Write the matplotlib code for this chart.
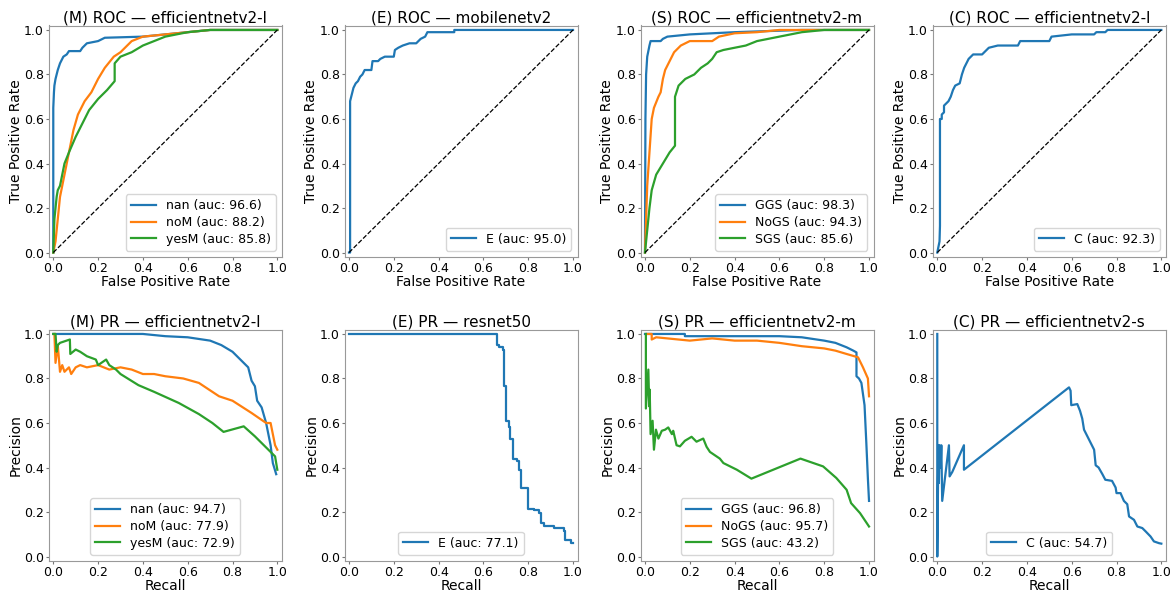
import matplotlib
matplotlib.use("Agg")
import matplotlib.pyplot as plt

# ---------------- ROC curves ----------------
# (M) efficientnetv2-l
m_roc_nan_fpr = [0.0, 0.0, 0.003, 0.005, 0.01, 0.015, 0.02, 0.03, 0.045, 0.06, 0.07, 0.12, 0.13, 0.15, 0.2, 0.23, 0.3, 0.4, 0.5, 0.6, 0.7, 1.0]
m_roc_nan_tpr = [0.0, 0.65, 0.72, 0.75, 0.78, 0.8, 0.82, 0.85, 0.88, 0.89, 0.905, 0.905, 0.92, 0.94, 0.95, 0.965, 0.967, 0.97, 0.98, 0.99, 1.0, 1.0]
m_roc_nom_fpr = [0.0, 0.01, 0.02, 0.03, 0.05, 0.07, 0.09, 0.11, 0.14, 0.17, 0.2, 0.23, 0.27, 0.3, 0.35, 0.4, 0.5, 0.6, 0.7, 1.0]
m_roc_nom_tpr = [0.0, 0.05, 0.15, 0.25, 0.35, 0.45, 0.55, 0.62, 0.68, 0.72, 0.78, 0.83, 0.88, 0.9, 0.95, 0.97, 0.98, 0.99, 1.0, 1.0]
m_roc_yes_fpr = [0.0, 0.005, 0.01, 0.015, 0.02, 0.03, 0.05, 0.07, 0.1, 0.13, 0.16, 0.2, 0.24, 0.274, 0.274, 0.3, 0.35, 0.4, 0.45, 0.5, 0.6, 0.7, 1.0]
m_roc_yes_tpr = [0.0, 0.15, 0.2, 0.25, 0.28, 0.3, 0.4, 0.45, 0.52, 0.58, 0.64, 0.69, 0.73, 0.77, 0.85, 0.88, 0.9, 0.93, 0.95, 0.97, 0.99, 1.0, 1.0]

# (E) mobilenetv2
e_roc_fpr = [0.0, 0.005, 0.005, 0.01, 0.015, 0.02, 0.03, 0.04, 0.05, 0.06, 0.07, 0.1, 0.105, 0.13, 0.14, 0.16, 0.2, 0.205, 0.22, 0.24, 0.27, 0.3, 0.32, 0.34, 0.35, 0.47, 0.47, 1.0]
e_roc_tpr = [0.0, 0.0, 0.68, 0.7, 0.72, 0.74, 0.76, 0.77, 0.79, 0.8, 0.82, 0.82, 0.86, 0.86, 0.87, 0.88, 0.88, 0.91, 0.92, 0.93, 0.94, 0.94, 0.96, 0.97, 0.99, 0.99, 1.0, 1.0]

# (S) efficientnetv2-m
s_roc_ggs_fpr = [0.0, 0.002, 0.005, 0.01, 0.02, 0.025, 0.07, 0.08, 0.1, 0.2, 0.4, 0.7, 1.0]
s_roc_ggs_tpr = [0.0, 0.6, 0.8, 0.88, 0.93, 0.95, 0.95, 0.96, 0.97, 0.98, 0.99, 1.0, 1.0]
s_roc_nogs_fpr = [0.0, 0.005, 0.01, 0.02, 0.03, 0.04, 0.06, 0.07, 0.08, 0.09, 0.11, 0.13, 0.16, 0.2, 0.3, 0.33, 0.4, 0.5, 0.6, 1.0]
s_roc_nogs_tpr = [0.0, 0.15, 0.3, 0.45, 0.6, 0.65, 0.7, 0.72, 0.78, 0.82, 0.86, 0.9, 0.93, 0.95, 0.95, 0.97, 0.985, 0.99, 1.0, 1.0]
s_roc_sgs_fpr = [0.0, 0.01, 0.02, 0.03, 0.05, 0.08, 0.11, 0.134, 0.134, 0.15, 0.18, 0.22, 0.25, 0.28, 0.3, 0.32, 0.35, 0.4, 0.45, 0.5, 0.6, 0.7, 0.8, 1.0]
s_roc_sgs_tpr = [0.0, 0.1, 0.2, 0.28, 0.35, 0.4, 0.45, 0.48, 0.7, 0.75, 0.78, 0.8, 0.83, 0.85, 0.87, 0.9, 0.91, 0.92, 0.93, 0.95, 0.97, 0.99, 1.0, 1.0]

# (C) efficientnetv2-l
c_roc_fpr = [0.0, 0.01, 0.012, 0.012, 0.02, 0.02, 0.03, 0.03, 0.05, 0.06, 0.07, 0.08, 0.1, 0.11, 0.12, 0.13, 0.14, 0.16, 0.2, 0.21, 0.23, 0.27, 0.36, 0.37, 0.5, 0.51, 0.6, 0.7, 0.71, 0.75, 0.76, 1.0]
c_roc_tpr = [0.0, 0.05, 0.12, 0.6, 0.6, 0.62, 0.63, 0.66, 0.68, 0.7, 0.73, 0.75, 0.76, 0.8, 0.83, 0.85, 0.87, 0.89, 0.89, 0.9, 0.92, 0.93, 0.93, 0.95, 0.95, 0.97, 0.98, 0.98, 0.99, 0.99, 1.0, 1.0]

# ---------------- PR curves ----------------
# (M) efficientnetv2-l
m_pr_nan_rec = [0.0, 0.4, 0.5, 0.6, 0.7, 0.75, 0.8, 0.85, 0.87, 0.885, 0.9, 0.91, 0.93, 0.95, 0.96, 0.97, 0.98, 0.995]
m_pr_nan_prec = [1.0, 1.0, 0.99, 0.985, 0.97, 0.95, 0.92, 0.87, 0.85, 0.79, 0.765, 0.7, 0.67, 0.6, 0.55, 0.5, 0.42, 0.37]
m_pr_nom_rec = [0.005, 0.01, 0.02, 0.03, 0.04, 0.05, 0.07, 0.08, 0.1, 0.12, 0.15, 0.2, 0.25, 0.3, 0.35, 0.4, 0.45, 0.5, 0.58, 0.65, 0.74, 0.8, 0.885, 0.95, 0.97, 0.99, 1.0]
m_pr_nom_prec = [1.0, 0.87, 0.95, 0.83, 0.86, 0.83, 0.85, 0.82, 0.85, 0.86, 0.85, 0.86, 0.84, 0.85, 0.84, 0.82, 0.82, 0.81, 0.8, 0.78, 0.72, 0.7, 0.645, 0.6, 0.6, 0.5, 0.48]
m_pr_yes_rec = [0.0, 0.01, 0.015, 0.02, 0.03, 0.074, 0.076, 0.1, 0.12, 0.15, 0.19, 0.2, 0.236, 0.25, 0.28, 0.3, 0.38, 0.45, 0.56, 0.65, 0.71, 0.76, 0.85, 0.9, 0.96, 0.99, 1.0]
m_pr_yes_prec = [1.0, 1.0, 0.92, 0.95, 0.96, 0.975, 0.91, 0.93, 0.92, 0.9, 0.885, 0.86, 0.885, 0.86, 0.84, 0.82, 0.77, 0.74, 0.69, 0.64, 0.6, 0.56, 0.585, 0.54, 0.48, 0.45, 0.39]

# (E) resnet50
e_pr_rec = [0.0, 0.659, 0.659, 0.67, 0.67, 0.686, 0.686, 0.693, 0.693, 0.70, 0.70, 0.715, 0.715, 0.72, 0.72, 0.73, 0.73, 0.75, 0.75, 0.76, 0.76, 0.767, 0.767, 0.80, 0.80, 0.826, 0.826, 0.85, 0.85, 0.855, 0.855, 0.87, 0.87, 0.915, 0.915, 0.96, 0.96, 0.966, 0.966, 0.99, 0.99, 1.0]
e_pr_prec = [1.0, 1.0, 0.952, 0.952, 0.94, 0.94, 0.93, 0.93, 0.765, 0.765, 0.61, 0.61, 0.58, 0.58, 0.53, 0.53, 0.44, 0.44, 0.43, 0.43, 0.39, 0.39, 0.31, 0.31, 0.215, 0.215, 0.21, 0.21, 0.195, 0.195, 0.15, 0.15, 0.135, 0.135, 0.13, 0.13, 0.113, 0.113, 0.075, 0.075, 0.063, 0.063]

# (S) efficientnetv2-m
s_pr_ggs_rec = [0.0, 0.178, 0.178, 0.6, 0.7, 0.8, 0.85, 0.9, 0.93, 0.944, 0.944, 0.955, 0.966, 0.98, 0.988, 0.995, 1.0]
s_pr_ggs_prec = [1.0, 1.0, 0.99, 0.99, 0.985, 0.97, 0.96, 0.94, 0.925, 0.917, 0.81, 0.8, 0.78, 0.68, 0.51, 0.35, 0.25]
s_pr_nogs_rec = [0.01, 0.03, 0.03, 0.05, 0.1, 0.15, 0.2, 0.25, 0.3, 0.4, 0.5, 0.6, 0.7, 0.8, 0.85, 0.9, 0.951, 0.973, 0.995, 1.0]
s_pr_nogs_prec = [1.0, 1.0, 0.975, 0.985, 0.98, 0.975, 0.97, 0.975, 0.98, 0.97, 0.97, 0.96, 0.945, 0.935, 0.925, 0.91, 0.895, 0.85, 0.8, 0.72]
s_pr_sgs_rec = [0.004, 0.004, 0.015, 0.019, 0.021, 0.025, 0.034, 0.04, 0.049, 0.06, 0.075, 0.09, 0.104, 0.12, 0.126, 0.141, 0.156, 0.178, 0.208, 0.23, 0.26, 0.275, 0.29, 0.334, 0.35, 0.41, 0.475, 0.694, 0.795, 0.854, 0.9, 0.92, 0.96, 1.0]
s_pr_sgs_prec = [1.0, 0.665, 0.84, 0.675, 0.75, 0.55, 0.61, 0.48, 0.57, 0.53, 0.565, 0.57, 0.58, 0.55, 0.565, 0.5, 0.495, 0.52, 0.538, 0.516, 0.53, 0.493, 0.47, 0.44, 0.42, 0.39, 0.35, 0.44, 0.405, 0.353, 0.3, 0.24, 0.195, 0.135]

# (C) efficientnetv2-s
c_pr_rec = [0.0, 0.0, 0.005, 0.007, 0.01, 0.015, 0.018, 0.022, 0.052, 0.055, 0.067, 0.119, 0.119, 0.588, 0.595, 0.598, 0.625, 0.637, 0.647, 0.655, 0.67, 0.685, 0.7, 0.707, 0.72, 0.737, 0.75, 0.78, 0.796, 0.80, 0.818, 0.833, 0.848, 0.856, 0.878, 0.893, 0.915, 0.93, 0.952, 0.967, 0.99, 1.0]
c_pr_prec = [1.0, 0.0, 0.5, 0.33, 0.5, 0.4, 0.5, 0.25, 0.5, 0.36, 0.38, 0.5, 0.39, 0.76, 0.745, 0.68, 0.685, 0.655, 0.62, 0.57, 0.54, 0.51, 0.48, 0.41, 0.4, 0.37, 0.345, 0.34, 0.31, 0.285, 0.285, 0.25, 0.235, 0.18, 0.165, 0.135, 0.128, 0.113, 0.09, 0.068, 0.06, 0.058]

COLORS = ["#1f77b4", "#ff7f0e", "#2ca02c"]

panels = [
    # row 0: ROC
    ("(M) ROC — efficientnetv2-l", "roc", [
        ("nan (auc: 96.6)", m_roc_nan_fpr, m_roc_nan_tpr),
        ("noM (auc: 88.2)", m_roc_nom_fpr, m_roc_nom_tpr),
        ("yesM (auc: 85.8)", m_roc_yes_fpr, m_roc_yes_tpr)]),
    ("(E) ROC — mobilenetv2", "roc", [
        ("E (auc: 95.0)", e_roc_fpr, e_roc_tpr)]),
    ("(S) ROC — efficientnetv2-m", "roc", [
        ("GGS (auc: 98.3)", s_roc_ggs_fpr, s_roc_ggs_tpr),
        ("NoGS (auc: 94.3)", s_roc_nogs_fpr, s_roc_nogs_tpr),
        ("SGS (auc: 85.6)", s_roc_sgs_fpr, s_roc_sgs_tpr)]),
    ("(C) ROC — efficientnetv2-l", "roc", [
        ("C (auc: 92.3)", c_roc_fpr, c_roc_tpr)]),
    # row 1: PR
    ("(M) PR — efficientnetv2-l", "pr", [
        ("nan (auc: 94.7)", m_pr_nan_rec, m_pr_nan_prec),
        ("noM (auc: 77.9)", m_pr_nom_rec, m_pr_nom_prec),
        ("yesM (auc: 72.9)", m_pr_yes_rec, m_pr_yes_prec)]),
    ("(E) PR — resnet50", "pr", [
        ("E (auc: 77.1)", e_pr_rec, e_pr_prec)]),
    ("(S) PR — efficientnetv2-m", "pr", [
        ("GGS (auc: 96.8)", s_pr_ggs_rec, s_pr_ggs_prec),
        ("NoGS (auc: 95.7)", s_pr_nogs_rec, s_pr_nogs_prec),
        ("SGS (auc: 43.2)", s_pr_sgs_rec, s_pr_sgs_prec)]),
    ("(C) PR — efficientnetv2-s", "pr", [
        ("C (auc: 54.7)", c_pr_rec, c_pr_prec)]),
]

W, H = 1176, 592
fig = plt.figure(figsize=(W / 100, H / 100), dpi=100)

col_left = [48.8, 344.5, 640.5, 932.8]
row_top = [25.5, 329.5]
ax_w, ax_h = 233.0, 231.5

ticks = [0.0, 0.2, 0.4, 0.6, 0.8, 1.0]
for i, (title, kind, series) in enumerate(panels):
    r, c = divmod(i, 4)
    x0 = col_left[c] / W
    y0 = 1 - (row_top[r] + ax_h) / H
    ax = fig.add_axes([x0, y0, ax_w / W, ax_h / H])
    for k, (lab, xs, ys) in enumerate(series):
        ax.plot(xs, ys, color=COLORS[k], lw=1.6, label=lab)
    if kind == "roc":
        ax.plot([0, 1], [0, 1], "k--", lw=0.9)
        ax.set_xlabel("False Positive Rate", fontsize=10, labelpad=0)
        ax.set_ylabel("True Positive Rate", fontsize=10, labelpad=1)
        loc = "lower right"
    else:
        ax.set_xlabel("Recall", fontsize=10, labelpad=0)
        ax.set_ylabel("Precision", fontsize=10, labelpad=1)
        loc = "lower center"
    ax.set_xlim(-0.02, 1.02)
    ax.set_ylim(-0.02, 1.02)
    ax.set_xticks(ticks)
    ax.set_yticks(ticks)
    ax.tick_params(labelsize=9, length=2, pad=1.5, color="#777777")
    for s in ax.spines.values():
        s.set_color("#999999")
    ax.set_title(title, fontsize=11, pad=1.5)
    ax.legend(loc=loc, fontsize=9, handlelength=2.0, labelspacing=0.3,
              borderpad=0.4, frameon=True)

fig.savefig("out.png", dpi=100)
